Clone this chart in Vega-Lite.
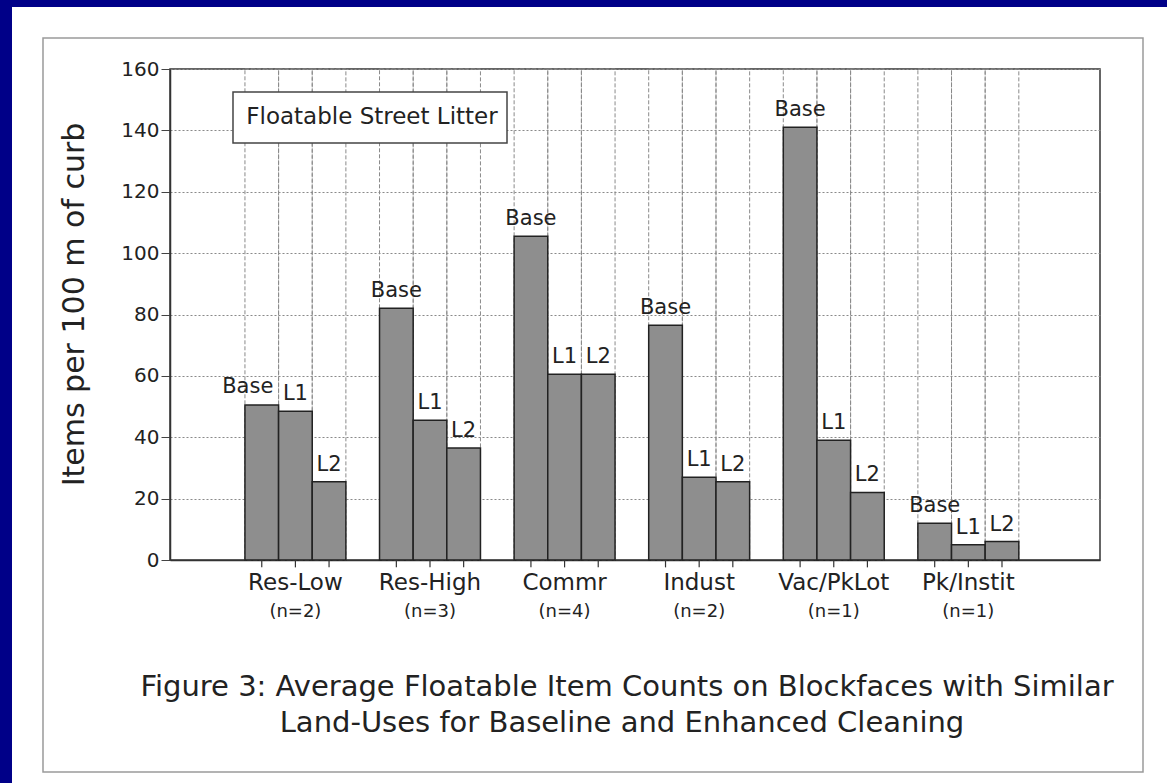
{
  "$schema": "https://vega.github.io/schema/vega-lite/v6.json",
  "width": 930,
  "height": 491,
  "autosize": {"type": "none"},
  "padding": {"left": 170, "top": 69, "right": 67, "bottom": 223},
  "background": "white",
  "config": {
    "font": "DejaVu Sans",
    "view": {"stroke": "#333333", "strokeWidth": 1.5}
  },
  "data": {
    "values": [
      {"landUse": "Res-Low", "n": "(n=2)", "period": "Base", "items": 50.5},
      {"landUse": "Res-Low", "n": "(n=2)", "period": "L1", "items": 48.5},
      {"landUse": "Res-Low", "n": "(n=2)", "period": "L2", "items": 25.5},
      {"landUse": "Res-High", "n": "(n=3)", "period": "Base", "items": 82},
      {"landUse": "Res-High", "n": "(n=3)", "period": "L1", "items": 45.5},
      {"landUse": "Res-High", "n": "(n=3)", "period": "L2", "items": 36.5},
      {"landUse": "Commr", "n": "(n=4)", "period": "Base", "items": 105.5},
      {"landUse": "Commr", "n": "(n=4)", "period": "L1", "items": 60.5},
      {"landUse": "Commr", "n": "(n=4)", "period": "L2", "items": 60.5},
      {"landUse": "Indust", "n": "(n=2)", "period": "Base", "items": 76.5},
      {"landUse": "Indust", "n": "(n=2)", "period": "L1", "items": 27},
      {"landUse": "Indust", "n": "(n=2)", "period": "L2", "items": 25.5},
      {"landUse": "Vac/PkLot", "n": "(n=1)", "period": "Base", "items": 141},
      {"landUse": "Vac/PkLot", "n": "(n=1)", "period": "L1", "items": 39},
      {"landUse": "Vac/PkLot", "n": "(n=1)", "period": "L2", "items": 22},
      {"landUse": "Pk/Instit", "n": "(n=1)", "period": "Base", "items": 12},
      {"landUse": "Pk/Instit", "n": "(n=1)", "period": "L1", "items": 5},
      {"landUse": "Pk/Instit", "n": "(n=1)", "period": "L2", "items": 6}
    ]
  },
  "resolve": {"scale": {"x": "independent"}},
  "layer": [
    {
      "layer": [
        {
          "mark": {"type": "bar", "fillOpacity": 0, "stroke": "#8a8a8a", "strokeWidth": 1, "strokeDash": [4, 2]},
          "encoding": {
            "x": {"field": "landUse", "type": "nominal", "sort": ["Res-Low", "Res-High", "Commr", "Indust", "Vac/PkLot", "Pk/Instit"],
                  "scale": {"paddingInner": 0.25, "paddingOuter": 0.58, "align": 0.48},
                  "axis": {"title": null, "labelFontSize": 23, "labelColor": "#222222", "labelPadding": 11, "ticks": false, "domainColor": "#333333", "domainWidth": 1.5, "labelAngle": 0, "grid": false}},
            "xOffset": {"field": "period", "type": "nominal", "scale": {"domain": ["Base", "L1", "L2"], "paddingInner": 0, "paddingOuter": 0}},
            "y": {"datum": 160, "type": "quantitative", "scale": {"domain": [0, 160], "nice": false},
                  "axis": {"title": "Items per 100 m of curb", "titleFontSize": 30, "titleFontWeight": "normal", "titleColor": "#222222",
                           "titleX": -96, "titleY": 235, "titleBaseline": "middle", "titleAlign": "center", "titleAngle": -90,
                           "values": [0, 20, 40, 60, 80, 100, 120, 140, 160], "labelFontSize": 20, "labelColor": "#222222", "labelPadding": 2,
                           "tickSize": 9, "tickColor": "#444444", "domainColor": "#333333", "domainWidth": 1.5,
                           "grid": true, "gridColor": "#8a8a8a", "gridDash": [2, 2], "gridWidth": 1.2}},
            "y2": {"datum": 0}
          }
        },
        {
          "mark": {"type": "bar", "fill": "#8e8e8e", "stroke": "#222222", "strokeWidth": 1.5},
          "encoding": {
            "x": {"field": "landUse", "type": "nominal", "sort": ["Res-Low", "Res-High", "Commr", "Indust", "Vac/PkLot", "Pk/Instit"]},
            "xOffset": {"field": "period", "type": "nominal"},
            "y": {"field": "items", "type": "quantitative", "scale": {"domain": [0, 160], "nice": false}}
          }
        },
        {
          "transform": [{"filter": "!(datum.landUse === 'Res-Low' && datum.period === 'Base')"}],
          "mark": {"type": "text", "fontSize": 21, "color": "#222222", "baseline": "alphabetic", "dy": -11},
          "encoding": {
            "x": {"field": "landUse", "type": "nominal", "sort": ["Res-Low", "Res-High", "Commr", "Indust", "Vac/PkLot", "Pk/Instit"]},
            "xOffset": {"field": "period", "type": "nominal"},
            "y": {"field": "items", "type": "quantitative", "scale": {"domain": [0, 160], "nice": false}},
            "text": {"field": "period"}
          }
        },
        {
          "transform": [{"filter": "datum.landUse === 'Res-Low' && datum.period === 'Base'"}],
          "mark": {"type": "text", "fontSize": 21, "color": "#222222", "baseline": "alphabetic", "dy": -12, "dx": -14},
          "encoding": {
            "x": {"field": "landUse", "type": "nominal", "sort": ["Res-Low", "Res-High", "Commr", "Indust", "Vac/PkLot", "Pk/Instit"]},
            "xOffset": {"field": "period", "type": "nominal"},
            "y": {"field": "items", "type": "quantitative", "scale": {"domain": [0, 160], "nice": false}},
            "text": {"field": "period"}
          }
        },
        {
          "mark": {"type": "rule", "stroke": "#333333", "strokeWidth": 1.2},
          "encoding": {
            "x": {"field": "landUse", "type": "nominal", "sort": ["Res-Low", "Res-High", "Commr", "Indust", "Vac/PkLot", "Pk/Instit"], "bandPosition": 0},
            "xOffset": {"field": "period", "type": "nominal"},
            "y": {"datum": 0, "type": "quantitative", "scale": {"domain": [0, 160], "nice": false}},
            "y2": {"datum": -2.4}
          }
        },
        {
          "transform": [{"filter": "datum.period === 'Base'"}],
          "mark": {"type": "text", "fontSize": 18, "color": "#222222", "baseline": "middle"},
          "encoding": {
            "x": {"field": "landUse", "type": "nominal", "sort": ["Res-Low", "Res-High", "Commr", "Indust", "Vac/PkLot", "Pk/Instit"]},
            "y": {"datum": -16.9, "type": "quantitative", "scale": {"domain": [0, 160], "nice": false}},
            "text": {"field": "n"}
          }
        }
      ]
    },
    {
      "data": {"values": [{}]},
      "layer": [
        {
          "mark": {"type": "rect", "fillOpacity": 0, "stroke": "#9a9a9a", "strokeWidth": 1.5},
          "encoding": {
            "x": {"datum": -0.13656, "type": "quantitative", "scale": {"domain": [0, 1], "nice": false, "zero": false}, "axis": null},
            "x2": {"datum": 1.04624},
            "y": {"datum": 170.1, "type": "quantitative", "scale": {"domain": [0, 160], "nice": false}},
            "y2": {"datum": -69.08}
          }
        },
        {
          "mark": {"type": "rect", "fill": "white", "stroke": "#444444", "strokeWidth": 1.5},
          "encoding": {
            "x": {"datum": 0.06774, "type": "quantitative"},
            "x2": {"datum": 0.36237},
            "y": {"datum": 152.5, "type": "quantitative"},
            "y2": {"datum": 135.89}
          }
        },
        {
          "mark": {"type": "text", "text": "Floatable Street Litter", "fontSize": 23, "color": "#222222", "baseline": "middle", "align": "center"},
          "encoding": {
            "x": {"datum": 0.2172, "type": "quantitative"},
            "y": {"datum": 144.2, "type": "quantitative"}
          }
        },
        {
          "mark": {"type": "text", "text": "Figure 3:  Average Floatable Item Counts on Blockfaces with Similar", "fontSize": 29, "color": "#222222", "baseline": "middle", "align": "center"},
          "encoding": {
            "x": {"datum": 0.4914, "type": "quantitative"},
            "y": {"datum": -41.4, "type": "quantitative"}
          }
        },
        {
          "mark": {"type": "text", "text": "Land-Uses for Baseline and Enhanced Cleaning", "fontSize": 29, "color": "#222222", "baseline": "middle", "align": "center"},
          "encoding": {
            "x": {"datum": 0.486, "type": "quantitative"},
            "y": {"datum": -53.1, "type": "quantitative"}
          }
        },
        {
          "mark": {"type": "rect", "fillOpacity": 0, "stroke": "#000088", "strokeWidth": 30},
          "encoding": {
            "x": {"datum": -0.18602, "type": "quantitative"},
            "x2": {"datum": 1.215},
            "y": {"datum": 185.09, "type": "quantitative"},
            "y2": {"datum": -110.8}
          }
        }
      ]
    }
  ]
}
